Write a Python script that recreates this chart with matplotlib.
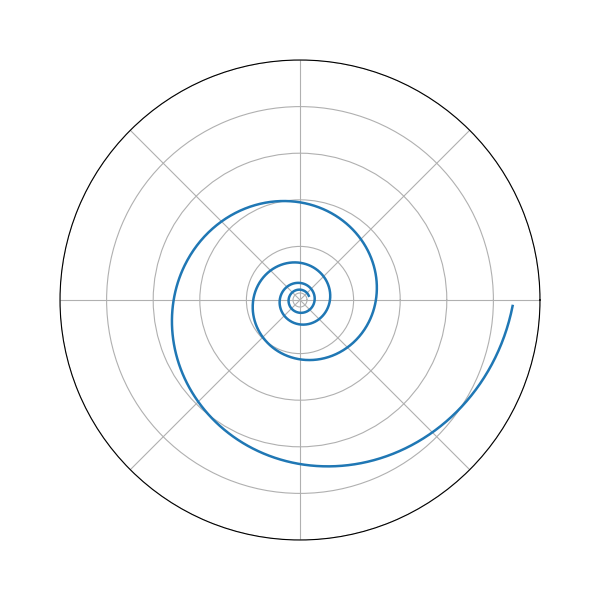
import numpy as np
import matplotlib
matplotlib.use("Agg")
import matplotlib.pyplot as plt

# Spiral parameters (radial units = one grid ring)
theta_start = 0.45 - 2 * np.pi * 4      # innermost point (rad)
theta_end = -0.028                      # outermost point (rad)
r_end = 4.414                           # radius at outer end
growth_per_turn = 3.0                   # radius factor per full turn

# Radial axis setup
r_limits = [-0.15, 5.0]
r_ticks = [0, 1, 2, 3, 4, 5]

b = np.log(growth_per_turn) / (2 * np.pi)
theta = np.linspace(theta_start, theta_end, 2000)
r = r_end * np.exp(b * (theta - theta_end))

fig = plt.figure(figsize=(6, 6), dpi=100)
ax = fig.add_axes([0.1, 0.1, 0.8, 0.8], projection="polar")
ax.plot(theta, r, color="#1f77b4", linewidth=1.8)
ax.set_ylim(r_limits)
ax.set_yticks(r_ticks)
ax.set_yticklabels([])
ax.set_xticklabels([])
ax.grid(True)
fig.savefig("out.png", dpi=100)
